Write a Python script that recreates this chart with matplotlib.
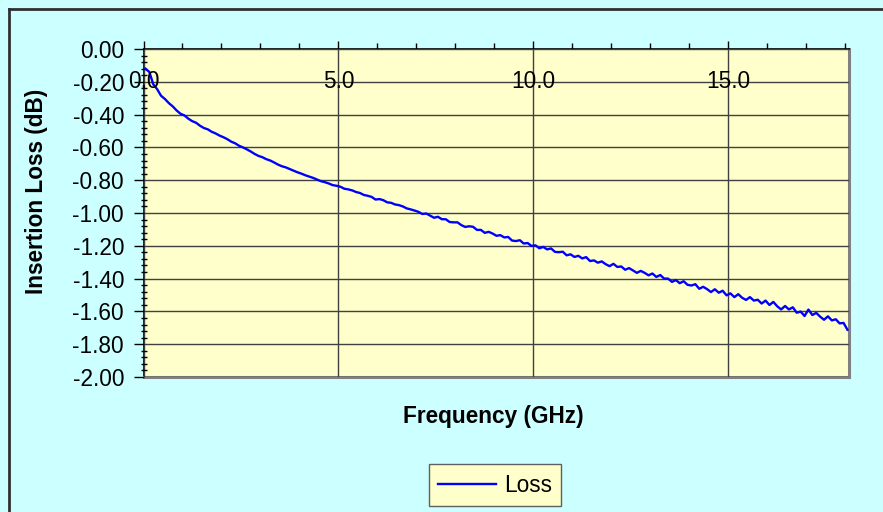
import numpy as np
import matplotlib
matplotlib.use("Agg")
import matplotlib.pyplot as plt
from matplotlib.lines import Line2D

# DATA
###################################
# frequency sweep (GHz), one sample every 0.1 GHz from 0.05 to 18.05
freq = np.linspace(0.05, 18.05, 181)

# insertion loss (dB)
loss = [
    -0.120, -0.140, -0.215, -0.245, -0.285, -0.305, -0.330, -0.350, -0.375, -0.395,
    -0.405, -0.425, -0.440, -0.450, -0.468, -0.482, -0.490, -0.505, -0.515, -0.528,
    -0.538, -0.550, -0.565, -0.575, -0.590, -0.600, -0.612, -0.625, -0.640, -0.652,
    -0.660, -0.672, -0.680, -0.692, -0.705, -0.715, -0.722, -0.732, -0.742, -0.752,
    -0.760, -0.770, -0.778, -0.786, -0.796, -0.806, -0.812, -0.820, -0.830, -0.834,
    -0.840, -0.852, -0.856, -0.862, -0.872, -0.878, -0.890, -0.895, -0.902, -0.918,
    -0.915, -0.922, -0.935, -0.938, -0.948, -0.952, -0.960, -0.972, -0.978, -0.985,
    -0.993, -1.006, -1.003, -1.016, -1.029, -1.023, -1.038, -1.038, -1.055, -1.057,
    -1.057, -1.074, -1.085, -1.081, -1.084, -1.103, -1.103, -1.121, -1.115, -1.125,
    -1.139, -1.135, -1.149, -1.146, -1.168, -1.171, -1.166, -1.186, -1.183, -1.201,
    -1.197, -1.215, -1.207, -1.222, -1.216, -1.237, -1.239, -1.236, -1.258, -1.252,
    -1.268, -1.261, -1.277, -1.269, -1.293, -1.289, -1.303, -1.295, -1.312, -1.324,
    -1.310, -1.329, -1.326, -1.346, -1.336, -1.350, -1.365, -1.353, -1.365, -1.380,
    -1.369, -1.390, -1.378, -1.400, -1.400, -1.420, -1.409, -1.428, -1.416, -1.438,
    -1.442, -1.434, -1.462, -1.450, -1.464, -1.482, -1.465, -1.486, -1.474, -1.502,
    -1.490, -1.513, -1.495, -1.517, -1.530, -1.513, -1.534, -1.529, -1.552, -1.534,
    -1.561, -1.542, -1.569, -1.588, -1.567, -1.588, -1.575, -1.608, -1.601, -1.628,
    -1.589, -1.622, -1.609, -1.632, -1.651, -1.630, -1.655, -1.648, -1.673, -1.670,
    -1.712,
]

x_ticks = [0, 5, 10, 15]
x_tick_labels = ["0.0", "5.0", "10.0", "15.0"]
y_ticks = [0.0, -0.2, -0.4, -0.6, -0.8, -1.0, -1.2, -1.4, -1.6, -1.8, -2.0]
y_tick_labels = ["0.00", "-0.20", "-0.40", "-0.60", "-0.80", "-1.00",
                 "-1.20", "-1.40", "-1.60", "-1.80", "-2.00"]

# FIGURE
###################################
plt.rcParams['font.family'] = ['Liberation Sans', 'DejaVu Sans']
FS = 16.3

fig = plt.figure(figsize=(8.83, 5.12), dpi=100, facecolor="#CCFFFF")
ax = fig.add_axes([143.5 / 883, 1 - 377 / 512, (849 - 143.5) / 883, (377 - 49) / 512])
ax.set_facecolor("#FFFFCC")

ax.plot(freq, loss, color="#0000FF", lw=1.7, label="Loss", zorder=3)

ax.set_xlim(0, 18.09)
ax.set_ylim(-2.0, 0.0)

# gridlines
ax.set_yticks(y_ticks)
ax.set_yticklabels(y_tick_labels, fontsize=FS)
ax.set_yticks(np.arange(-2.0, 0.001, 0.04), minor=True)
ax.set_xticks(x_ticks)
ax.set_xticks(np.arange(0, 18.1, 1.0), minor=True)
ax.grid(True, which="major", color="#404040", lw=1.0)
ax.set_axisbelow(False)

# x axis sits on top (value 0), labels drawn just under it
ax.xaxis.set_ticks_position("top")
ax.tick_params(axis="x", which="major", direction="out", length=6, width=1,
               labeltop=False, labelbottom=False)
ax.tick_params(axis="x", which="minor", direction="out", length=4, width=1)
for xv, lab in zip(x_ticks, x_tick_labels):
    ax.text(xv, -0.2, lab, ha="center", va="center", fontsize=FS, zorder=4)

ax.tick_params(axis="y", which="major", direction="out", length=7, width=1, pad=7)
ax.tick_params(axis="y", which="minor", direction="inout", length=5, width=1)

for side in ["left", "top"]:
    ax.spines[side].set_color("black")
    ax.spines[side].set_linewidth(1.2)
for side in ["right", "bottom"]:
    ax.spines[side].set_color("#808080")
    ax.spines[side].set_linewidth(2.2)

ax.set_ylabel("Insertion Loss (dB)", fontsize=FS, fontweight="bold")
ax.yaxis.set_label_coords(-0.135, 0.565)
fig.text(493 / 883, 1 - 416 / 512, "Frequency (GHz)", ha="center", va="center",
         fontsize=FS, fontweight="bold")

leg = fig.legend(loc="center", bbox_to_anchor=(495 / 883, 1 - 485 / 512),
                 fontsize=FS, frameon=True, fancybox=False, handlelength=2.6,
                 handletextpad=0.35, borderpad=0.4, borderaxespad=0)
leg.get_frame().set_facecolor("#FFFFCC")
leg.get_frame().set_edgecolor("#606060")
leg.get_frame().set_linewidth(1.0)
leg.get_frame().set_alpha(1)

# chart area border (only left and top edges fall inside the picture)
bx = 9 / 883
by = 1 - 9 / 512
fig.add_artist(Line2D([bx, bx], [0, by], transform=fig.transFigure,
                      color="#303030", lw=2))
fig.add_artist(Line2D([bx, 1], [by, by], transform=fig.transFigure,
                      color="#303030", lw=2))

fig.savefig("out.png", dpi=100, facecolor=fig.get_facecolor())
